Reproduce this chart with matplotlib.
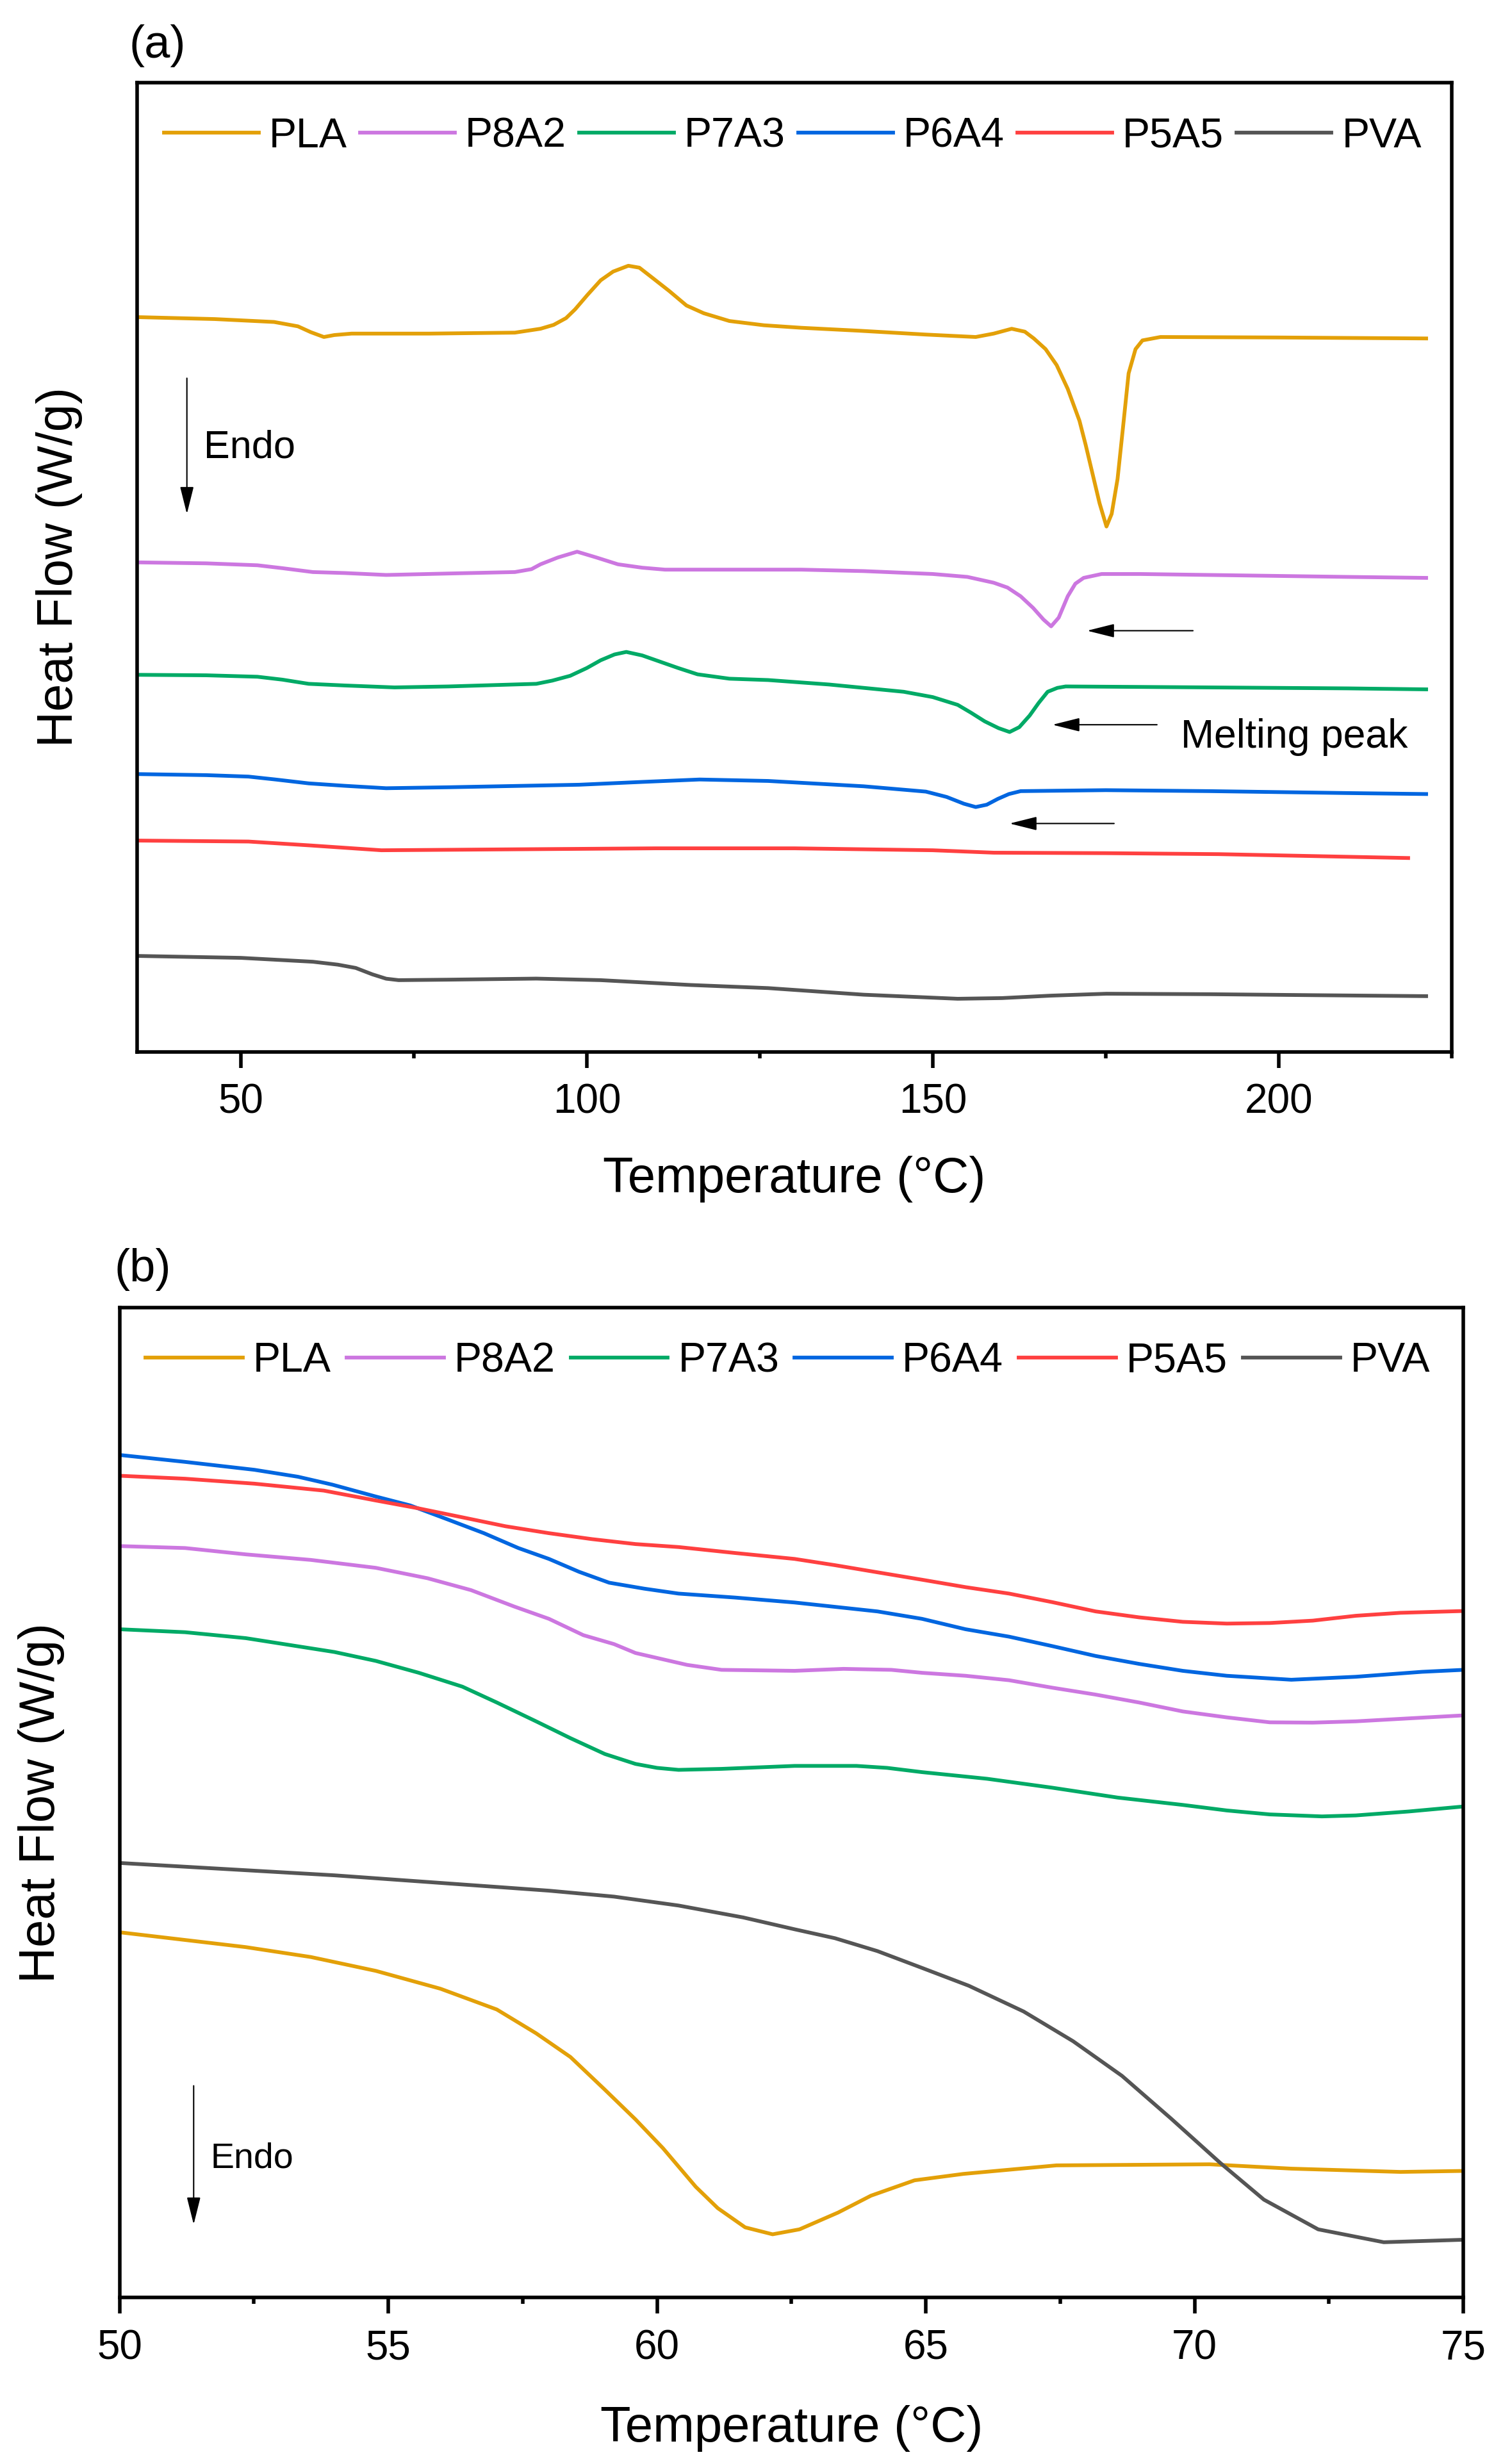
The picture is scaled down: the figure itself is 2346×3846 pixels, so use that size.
import matplotlib
matplotlib.use('Agg')
import matplotlib.pyplot as plt
from matplotlib.ticker import MultipleLocator

plt.rcParams['font.family'] = ['Liberation Sans', 'DejaVu Sans']

names = ['PLA', 'P8A2', 'P7A3', 'P6A4', 'P5A5', 'PVA']
colors = ['#E3A008', '#CC77E0', '#00AA66', '#0066E0', '#FF4040', '#555555']

# ---- panel (a): full DSC scans, heat flow in arbitrary (offset) units ----
t_pla_a = [35.1, 46.2, 54.8, 58.25, 60.1, 62.0, 63.5, 66, 77.2, 89.6, 93.3, 95.2, 97.0, 98.3,
           100.1, 102.0, 103.8, 106.0, 107.6, 109.4, 111.9, 114.4, 116.9, 120.6, 125.6, 131,
           139.3, 149.0, 156.2, 158.8, 161.4, 163.3, 164.6, 166.3, 167.9, 169.5, 171.2, 172.1,
           173.1, 174.1, 175.1, 175.85, 176.7, 177.5, 178.3, 179.3, 180.3, 182.9, 200, 221.3]
hf_pla_a = [75.8, 75.6, 75.3, 74.85, 74.25, 73.75, 73.95, 74.1, 74.1, 74.2, 74.6, 75.0, 75.7,
            76.6, 78.1, 79.6, 80.5, 81.1, 80.9, 79.9, 78.5, 77.0, 76.2, 75.4, 74.96, 74.7, 74.4,
            74.0, 73.75, 74.1, 74.6, 74.3, 73.6, 72.5, 70.85, 68.4, 65.1, 62.6, 59.6, 56.6,
            54.2, 55.5, 59.1, 64.5, 70.0, 72.5, 73.4, 73.75, 73.7, 73.6]

t_p8a2_a = [35, 45, 52.4, 56, 60.4, 65, 71, 80, 89.6, 92, 93.3, 95.8, 98.6, 101.4, 104.5, 108,
            111.3, 120, 131, 140, 150, 155, 158.8, 160.8, 162.7, 164.5, 166, 167.1, 168.2, 169.5,
            170.6, 171.8, 174.4, 180, 190, 200, 210, 221.3]
hf_p8a2_a = [50.5, 50.4, 50.2, 49.9, 49.5, 49.4, 49.2, 49.35, 49.5, 49.8, 50.3, 51.0, 51.6, 51.0,
             50.3, 49.95, 49.75, 49.75, 49.75, 49.6, 49.3, 49.0, 48.4, 47.9, 47.0, 45.8, 44.6,
             43.9, 44.8, 47.0, 48.3, 48.9, 49.3, 49.3, 49.2, 49.1, 49.0, 48.9]

t_p7a3_a = [35, 45, 52.4, 56, 59.8, 65, 72.2, 80, 92.7, 95, 97.6, 100, 102, 104, 105.7, 108, 110,
            113.2, 116, 120.6, 126.2, 135, 145.8, 150, 153.6, 155.5, 157.5, 159.5, 161.1, 162.5,
            164, 165.3, 166.6, 168, 169.2, 180, 190, 200, 210, 221.3]
hf_p7a3_a = [38.9, 38.85, 38.7, 38.4, 37.97, 37.8, 37.6, 37.7, 37.97, 38.3, 38.8, 39.6, 40.4,
             41.0, 41.26, 40.9, 40.4, 39.6, 38.95, 38.5, 38.36, 37.9, 37.15, 36.6, 35.8, 35.0,
             34.1, 33.4, 33.0, 33.5, 34.7, 36.0, 37.15, 37.55, 37.7, 37.65, 37.6, 37.55, 37.5, 37.4]

t_p6a4_a = [35, 45, 51.1, 55, 59.8, 65, 71, 80, 98.9, 108, 116.3, 126.2, 140, 149, 152, 154.5,
            156.2, 157.8, 159.4, 161, 162.7, 175, 190, 200, 210, 221.3]
hf_p6a4_a = [28.66, 28.55, 28.4, 28.1, 27.7, 27.45, 27.2, 27.3, 27.56, 27.85, 28.1, 27.95, 27.4,
             26.85, 26.3, 25.6, 25.26, 25.5, 26.1, 26.6, 26.9, 27.0, 26.9, 26.8, 26.7, 26.6]

t_p5a5_a = [35, 51.1, 60, 70.3, 90, 110, 130, 150, 158.8, 175, 191.3, 205, 218.7]
hf_p5a5_a = [21.8, 21.7, 21.3, 20.8, 20.9, 21.0, 21.0, 20.8, 20.55, 20.5, 20.4, 20.2, 20.0]

t_pva_a = [35, 50, 60.4, 64, 66.6, 69, 71, 72.8, 80, 92.7, 102, 115, 126.2, 140, 153.6, 160, 167,
           175.1, 190, 205, 221.3]
hf_pva_a = [9.9, 9.7, 9.3, 9.0, 8.66, 8.0, 7.55, 7.4, 7.45, 7.56, 7.4, 6.9, 6.58, 5.9, 5.48, 5.55,
            5.8, 6.0, 5.95, 5.85, 5.75]

# ---- panel (b): zoom on the glass transition region ----
t_pla_b = [50, 52.35, 53.56, 54.77, 55.97, 57.02, 57.75, 58.39, 59.03, 59.6, 60.11, 60.72, 61.13,
           61.64, 62.15, 62.65, 63.37, 63.98, 64.79, 65.7, 67.43, 70.28, 71.8, 73.83, 75]
hf_pla_b = [36.9, 35.4, 34.4, 33.0, 31.2, 29.1, 26.7, 24.3, 21.0, 18.0, 15.1, 11.2, 9.04, 7.1,
            6.4, 6.9, 8.6, 10.3, 11.85, 12.5, 13.36, 13.47, 13.03, 12.7, 12.8]

t_p8a2_b = [50, 51.22, 52.35, 53.56, 54.77, 55.73, 56.54, 57.34, 57.99, 58.63, 59.2, 59.6, 60.0,
            60.56, 61.2, 62.56, 63.47, 64.36, 64.93, 65.74, 66.55, 67.35, 68.16, 68.97, 69.78,
            70.6, 71.4, 72.2, 73.0, 73.99, 75]
hf_p8a2_b = [75.9, 75.7, 75.06, 74.5, 73.7, 72.65, 71.45, 69.8, 68.55, 66.9, 66.0, 65.1, 64.6,
             63.9, 63.4, 63.3, 63.5, 63.4, 63.1, 62.8, 62.35, 61.6, 60.9, 60.1, 59.2, 58.6, 58.1,
             58.07, 58.2, 58.5, 58.8]

t_p7a3_b = [50, 51.22, 52.35, 54.0, 54.77, 55.57, 56.38, 57.02, 57.75, 58.39, 59.03, 59.6, 60.0,
            60.4, 61.2, 62.56, 63.71, 64.28, 64.93, 66.14, 67.35, 68.57, 69.78, 70.6, 71.4, 72.37,
            73.0, 73.99, 75]
hf_p7a3_b = [67.5, 67.2, 66.6, 65.2, 64.3, 63.1, 61.7, 60.1, 58.2, 56.5, 54.9, 53.9, 53.5, 53.3,
             53.4, 53.7, 53.7, 53.5, 53.07, 52.4, 51.5, 50.5, 49.76, 49.2, 48.8, 48.6, 48.7, 49.1,
             49.6]

t_p6a4_b = [50, 51.22, 52.51, 53.32, 53.96, 54.77, 55.41, 56.05, 56.78, 57.42, 57.99, 58.55, 59.11,
            59.76, 60.4, 61.45, 62.56, 64.1, 64.93, 65.74, 66.55, 67.35, 68.16, 68.97, 69.78,
            70.6, 71.8, 73.0, 74.23, 75]
hf_p6a4_b = [85.1, 84.4, 83.6, 82.9, 82.1, 80.9, 80.0, 78.7, 77.2, 75.7, 74.6, 73.3, 72.2, 71.6,
             71.1, 70.7, 70.2, 69.3, 68.55, 67.5, 66.75, 65.8, 64.8, 64.0, 63.3, 62.8, 62.4, 62.7,
             63.2, 63.4]

t_p5a5_b = [50, 51.22, 52.51, 53.8, 54.77, 55.57, 56.38, 57.18, 57.99, 58.79, 59.6, 60.4, 61.45,
            62.56, 63.31, 64.1, 64.93, 65.74, 66.55, 67.35, 68.16, 68.97, 69.78, 70.6, 71.4, 72.2,
            73.0, 73.83, 75]
hf_p5a5_b = [83.0, 82.7, 82.2, 81.5, 80.5, 79.7, 78.8, 77.9, 77.2, 76.6, 76.1, 75.8, 75.2, 74.6,
             73.97, 73.25, 72.5, 71.75, 71.1, 70.24, 69.3, 68.7, 68.25, 68.07, 68.13, 68.37, 68.86,
             69.16, 69.34]

t_pva_b = [50, 54.0, 57.99, 59.2, 60.4, 61.6, 62.56, 63.31, 64.1, 64.93, 65.8, 66.82, 67.74, 68.65,
           69.56, 70.48, 71.29, 72.3, 73.52, 75]
hf_pva_b = [43.9, 42.65, 41.1, 40.5, 39.6, 38.4, 37.2, 36.3, 35.0, 33.3, 31.5, 28.9, 25.9, 22.4,
            18.1, 13.6, 9.9, 6.9, 5.6, 5.85]

series_a = [(t_pla_a, hf_pla_a), (t_p8a2_a, hf_p8a2_a), (t_p7a3_a, hf_p7a3_a),
            (t_p6a4_a, hf_p6a4_a), (t_p5a5_a, hf_p5a5_a), (t_pva_a, hf_pva_a)]
series_b = [(t_pla_b, hf_pla_b), (t_p8a2_b, hf_p8a2_b), (t_p7a3_b, hf_p7a3_b),
            (t_p6a4_b, hf_p6a4_b), (t_p5a5_b, hf_p5a5_b), (t_pva_b, hf_pva_b)]

LW = 4.2
TICK_FS = 46
LABEL_FS = 56
ARROW = '-|>,head_length=0.8,head_width=0.2'


def style_axes(ax, major, minor):
    for sp in ax.spines.values():
        sp.set_linewidth(4)
    ax.set_yticks([])
    ax.xaxis.set_major_locator(MultipleLocator(major))
    ax.xaxis.set_minor_locator(MultipleLocator(minor))
    ax.tick_params(axis='x', which='major', direction='out', length=18, width=4,
                   labelsize=TICK_FS, pad=17)
    ax.tick_params(axis='x', which='minor', direction='out', length=7, width=4)
    ax.set_ylim(0, 100)


def arrow(ax, start, end):
    ax.annotate('', xy=end, xytext=start,
                arrowprops=dict(arrowstyle=ARROW, mutation_scale=33, lw=1.5,
                                color='black', shrinkA=0, shrinkB=0))


fig = plt.figure(figsize=(23.46, 38.46), dpi=100)

# panel (a)
ax1 = fig.add_axes([0.0912, 0.5731, 0.8747, 0.3934])
for (t, hf), name, c in zip(series_a, names, colors):
    ax1.plot(t, hf, color=c, lw=LW, label=name, solid_joinstyle='round')
style_axes(ax1, 50, 25)
ax1.set_xlim(35, 225)
ax1.set_xlabel('Temperature (°C)', fontsize=LABEL_FS, va='center')
ax1.xaxis.set_label_coords(0.5, -0.131)
ax1.set_ylabel('Heat Flow (W/g)', fontsize=LABEL_FS, va='center')
ax1.yaxis.set_label_coords(-0.059, 0.5)
ax1.legend(loc='center left', bbox_to_anchor=(0.0205, 0.9445), ncol=6, frameon=False,
           fontsize=46.5, handlelength=2.29, handletextpad=0.25, columnspacing=0.31,
           borderpad=0, borderaxespad=0)

arrow(ax1, (42.2, 69.5), (42.2, 55.5))
ax1.text(44.6, 61.3, 'Endo', fontsize=44, va='baseline')
for x0, x1, y in [(187.6, 172.3, 43.45), (182.4, 167.3, 33.75), (176.2, 161.1, 23.56)]:
    arrow(ax1, (x0, y), (x1, y))
ax1.text(185.8, 31.4, 'Melting peak', fontsize=45, va='baseline')

# panel (b)
ax2 = fig.add_axes([0.0795, 0.0675, 0.8941, 0.4019])
for (t, hf), name, c in zip(series_b, names, colors):
    ax2.plot(t, hf, color=c, lw=LW, label=name, solid_joinstyle='round')
style_axes(ax2, 5, 2.5)
ax2.set_xlim(50, 75)
ax2.set_xlabel('Temperature (°C)', fontsize=LABEL_FS, va='center')
ax2.xaxis.set_label_coords(0.5, -0.132)
ax2.set_ylabel('Heat Flow (W/g)', fontsize=LABEL_FS, va='center')
ax2.yaxis.set_label_coords(-0.058, 0.5)
ax2.legend(loc='center left', bbox_to_anchor=(0.0193, 0.946), ncol=6, frameon=False,
           fontsize=46.5, handlelength=2.35, handletextpad=0.25, columnspacing=0.37,
           borderpad=0, borderaxespad=0)

arrow(ax2, (51.38, 21.4), (51.38, 7.4))
ax2.text(51.69, 13.1, 'Endo', fontsize=40, va='baseline')

fig.text(0.0861, 0.9766, '(a)', fontsize=52, va='baseline')
fig.text(0.0759, 0.4800, '(b)', fontsize=52, va='baseline')

fig.savefig('out.png', dpi=100)
